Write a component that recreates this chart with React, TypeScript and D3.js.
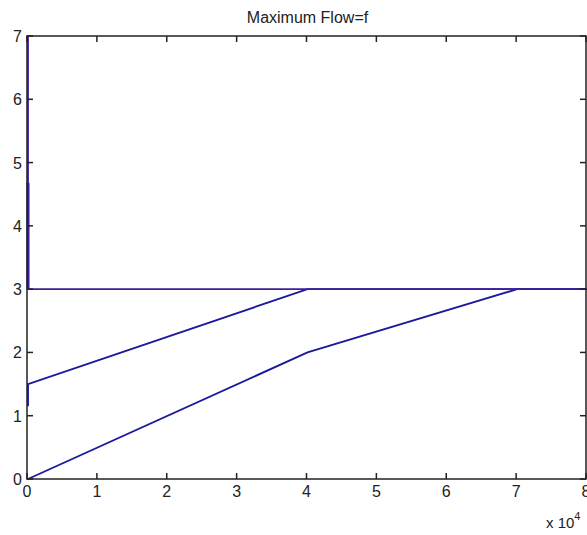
import React, { useEffect, useRef } from 'react';
import * as d3 from 'd3';

const width = 587;
const height = 535;
const margin = { top: 36, right: 1, bottom: 56, left: 27 };

const xTicks = [0, 1, 2, 3, 4, 5, 6, 7, 8];
const yTicks = [0, 1, 2, 3, 4, 5, 6, 7];

// flow paths (x stored raw, axis shows units of 10^4)
const flowA = [[0, 0], [40000, 2], [70000, 3], [80000, 3]];
const flowB = [[0, 1.15], [0, 1.5], [40000, 3], [80000, 3]];
const flowC = [[0, 3], [0, 4.68]];
const capacity = [[0, 7], [0, 3], [80000, 3]];

const App = () => {
  const svgRef = useRef(null);

  useEffect(() => {
    const svg = d3.select(svgRef.current);
    svg.selectAll('*').remove();

    const x = d3.scaleLinear().domain([0, 80000]).range([margin.left, width - margin.right]);
    const y = d3.scaleLinear().domain([0, 7]).range([height - margin.bottom, margin.top]);

    const font = 'Liberation Sans, Arial, sans-serif';

    svg.append('rect').attr('width', width).attr('height', height).attr('fill', '#fff');

    const line = d3.line()
      .x(d => x(d[0]) + 1)
      .y(d => y(d[1]));

    const plot = [
      { data: flowA, color: '#1a1a9c', w: 1.9 },
      { data: flowB, color: '#1a1a9c', w: 1.9 },
      { data: flowC, color: '#1a1a9c', w: 3 },
      { data: capacity, color: '#3f1f98', w: 1.8 },
    ];
    plot.forEach(p => {
      svg.append('path')
        .datum(p.data)
        .attr('d', line)
        .attr('fill', 'none')
        .attr('stroke', p.color)
        .attr('stroke-width', p.w);
    });

    const x0 = x(0), x1 = x(80000), y0 = y(0), y1 = y(7);

    // box
    svg.append('rect')
      .attr('x', x0).attr('y', y1)
      .attr('width', x1 - x0).attr('height', y0 - y1)
      .attr('fill', 'none').attr('stroke', '#222').attr('stroke-width', 1.5);

    const tl = 6;
    xTicks.forEach(t => {
      const px = x(t * 10000);
      svg.append('line').attr('x1', px).attr('x2', px).attr('y1', y0).attr('y2', y0 - tl).attr('stroke', '#222').attr('stroke-width', 1.5);
      svg.append('line').attr('x1', px).attr('x2', px).attr('y1', y1).attr('y2', y1 + tl).attr('stroke', '#222').attr('stroke-width', 1.5);
      svg.append('text')
        .attr('x', px).attr('y', y0 + 18)
        .attr('text-anchor', 'middle')
        .attr('font-family', font).attr('font-size', 16).attr('fill', '#222')
        .text(t);
    });

    yTicks.forEach(t => {
      const py = y(t);
      svg.append('line').attr('x1', x0).attr('x2', x0 + tl).attr('y1', py).attr('y2', py).attr('stroke', '#222').attr('stroke-width', 1.5);
      svg.append('line').attr('x1', x1).attr('x2', x1 - tl).attr('y1', py).attr('y2', py).attr('stroke', '#222').attr('stroke-width', 1.5);
      svg.append('text')
        .attr('x', x0 - 5).attr('y', py + 6)
        .attr('text-anchor', 'end')
        .attr('font-family', font).attr('font-size', 16).attr('fill', '#222')
        .text(t);
    });

    const exp = svg.append('text')
      .attr('x', 546).attr('y', 528)
      .attr('font-family', font).attr('font-size', 15).attr('fill', '#222');
    exp.append('tspan').text('x 10');
    exp.append('tspan').attr('dy', -8).attr('font-size', 11).text('4');

    svg.append('text')
      .attr('x', (x0 + x1) / 2 + 1).attr('y', 23)
      .attr('text-anchor', 'middle')
      .attr('font-family', font).attr('font-size', 16).attr('fill', '#222')
      .text('Maximum Flow=f');
  }, []);

  return (
    <div style={{ position: 'absolute', left: 0, top: 0 }}>
      <svg ref={svgRef} width={width} height={height}></svg>
    </div>
  );
};

export default App;
